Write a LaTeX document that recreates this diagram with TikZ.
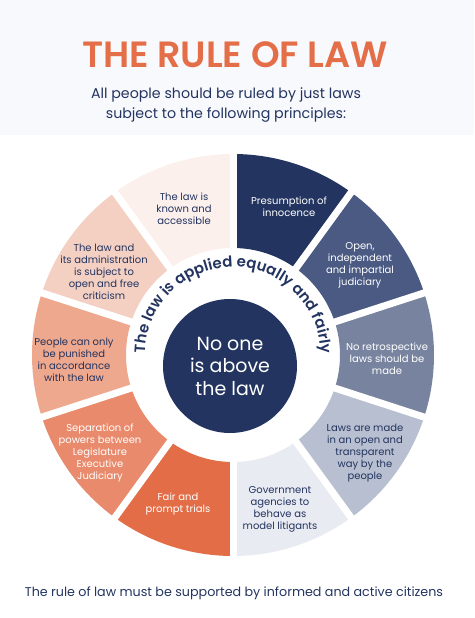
\documentclass[tikz,border=0pt]{standalone}
\usepackage{fontspec}
\setmainfont{Poppins}[BoldFont={Poppins SemiBold}]
\usetikzlibrary{decorations.text}
\definecolor{navy}{HTML}{233460}
\definecolor{rust}{HTML}{E46E47}
\definecolor{band}{HTML}{F8F9FD}
\definecolor{segone}{HTML}{233460}
\definecolor{segtwo}{HTML}{4B5A82}
\definecolor{segthree}{HTML}{78849F}
\definecolor{segfour}{HTML}{B8BFD0}
\definecolor{segfive}{HTML}{E9EBF2}
\definecolor{segsix}{HTML}{E26D47}
\definecolor{segseven}{HTML}{E88A6B}
\definecolor{segeight}{HTML}{EEA88E}
\definecolor{segnine}{HTML}{F4D0C3}
\definecolor{segten}{HTML}{FBF0EC}
\tikzset{
  label dark/.style={text=white, align=center, font=\fontsize{10}{12}\selectfont},
  label light/.style={text=navy, align=center, font=\fontsize{10}{12}\selectfont},
  gap/.style={white, line width=7pt}
}
\begin{document}
\begin{tikzpicture}[x=1pt, y=1pt]
  \useasboundingbox (-233,-263) rectangle (241,355);
  % header
  \fill[band] (-233,220) rectangle (241,355);
  \node[text=rust, font=\fontsize{36.5}{36.5}\selectfont\bfseries] (title) at (2,300) {THE RULE OF LAW};
  \node[text=navy, align=center, font=\fontsize{14.2}{20}\selectfont] (subtitle) at (-7,250)
    {All people should be ruled by just laws\\subject to the following principles:};
  % segments
  \fill[segone] (90:201) arc (90:54:201) -- (54:107) arc (54:90:107) -- cycle;
  \fill[segtwo] (54:201) arc (54:18:201) -- (18:107) arc (18:54:107) -- cycle;
  \fill[segthree] (18:201) arc (18:-18:201) -- (-18:107) arc (-18:18:107) -- cycle;
  \fill[segfour] (-18:201) arc (-18:-54:201) -- (-54:107) arc (-54:-18:107) -- cycle;
  \fill[segfive] (-54:201) arc (-54:-90:201) -- (-90:107) arc (-90:-54:107) -- cycle;
  \fill[segsix] (-90:201) arc (-90:-126:201) -- (-126:107) arc (-126:-90:107) -- cycle;
  \fill[segseven] (-126:201) arc (-126:-162:201) -- (-162:107) arc (-162:-126:107) -- cycle;
  \fill[segeight] (-162:201) arc (-162:-198:201) -- (-198:107) arc (-198:-162:107) -- cycle;
  \fill[segnine] (162:201) arc (162:126:201) -- (126:107) arc (126:162:107) -- cycle;
  \fill[segten] (126:201) arc (126:90:201) -- (90:107) arc (90:126:107) -- cycle;
  % gaps
  \draw[gap] (90:100) -- (90:210);
  \draw[gap] (54:100) -- (54:210);
  \draw[gap] (18:100) -- (18:210);
  \draw[gap] (-18:100) -- (-18:210);
  \draw[gap] (-54:100) -- (-54:210);
  \draw[gap] (-90:100) -- (-90:210);
  \draw[gap] (-126:100) -- (-126:210);
  \draw[gap] (-162:100) -- (-162:210);
  \draw[gap] (162:100) -- (162:210);
  \draw[gap] (126:100) -- (126:210);
  % labels
  \node[label dark] (innocence) at (56,148) {Presumption of\\innocence};
  \node[label dark] (judiciary) at (127,90) {Open,\\independent\\and impartial\\judiciary};
  \node[label dark] (retro) at (154,-4) {No retrospective\\laws should be\\made};
  \node[label light] (open) at (132,-98) {Laws are made\\in an open and\\transparent\\way by the\\people};
  \node[label light] (agencies) at (47,-154) {Government\\agencies to\\behave as\\model litigants};
  \node[label dark] (trials) at (-55,-149) {Fair and\\prompt trials};
  \node[label dark] (powers) at (-133,-98) {Separation of\\powers between\\Legislature\\Executive\\Judiciary};
  \node[label light] (punished) at (-159,-5) {People can only\\be punished\\in accordance\\with the law};
  \node[label light] (criticism) at (-129,83) {The law and\\its administration\\is subject to\\open and free\\criticism};
  \node[label light] (known) at (-49,146) {The law is\\known and\\accessible};
  % centre
  \node[circle, fill=navy, minimum size=134pt, text=white, align=center,
    font=\fontsize{19}{22.5}\selectfont] (core) at (-3,-11) {No one\\is above\\the law};
  \path[decorate, decoration={text along path, text align=center, text color=navy,
    text={|\fontsize{15}{15}\selectfont\bfseries|The law is applied equally and fairly}}]
    (200:88) arc (200:-20:88);
  % footer
  \node[text=navy, font=\fontsize{12.7}{16}\selectfont] (footer) at (1,-238)
    {The rule of law must be supported by informed and active citizens};
\end{tikzpicture}
\end{document}
